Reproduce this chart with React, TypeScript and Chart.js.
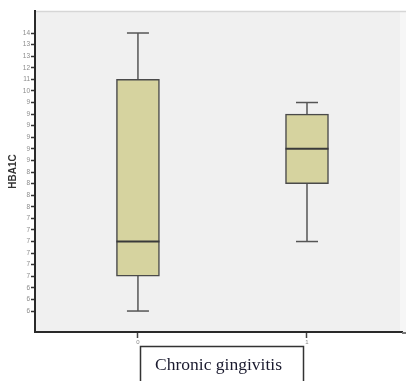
import React, { useEffect, useRef } from "react";
import { Chart, registerables } from "chart.js";

Chart.register(...registerables);

// Groups on the horizontal axis
const groups = [0, 1];
const groupLabels = ["0", "1"];

// Ordinal HbA1c axis: one tick per distinct measured value, labelled rounded
const yTickLabels = [
  "6", "6", "6",
  "7", "7", "7", "7", "7", "7",
  "8", "8", "8", "8",
  "9", "9", "9", "9", "9", "9",
  "10", "11", "12", "13", "13", "14",
];

// Box-plot summaries, as positions on the ordinal axis above
const whiskerLow = [0, 6];
const quartile1 = [3, 11];
const medians = [6, 14];
const quartile3 = [20, 17];
const whiskerHigh = [24, 18];

const xTitle = "Chronic gingivitis";
const yTitle = "HBA1C";

const plotBackground = {
  id: "plotBackground",
  beforeDraw(chart: any) {
    const { ctx, chartArea } = chart;
    if (!chartArea) return;
    ctx.save();
    ctx.fillStyle = "#f0f0f0";
    ctx.fillRect(chartArea.left, chartArea.top, chartArea.right - chartArea.left, chartArea.bottom - chartArea.top);
    ctx.fillStyle = "#f6f6f6";
    ctx.fillRect(chartArea.right - 2, chartArea.top, 6, chartArea.bottom - chartArea.top);
    ctx.strokeStyle = "#d6d6d6";
    ctx.lineWidth = 1.5;
    ctx.beginPath();
    ctx.moveTo(chartArea.left, chartArea.top + 0.5);
    ctx.lineTo(chart.width, chartArea.top + 0.5);
    ctx.stroke();
    ctx.restore();
  },
};

// Frame around the horizontal axis title, and the axis line running to the edge
const titleFrame = {
  id: "titleFrame",
  afterDraw(chart: any) {
    const { ctx, chartArea } = chart;
    const x = chart.scales.x;
    const cx = (x.left + x.right) / 2;
    ctx.save();
    ctx.strokeStyle = "#333";
    ctx.lineWidth = 1.5;
    const left = Math.round(cx - 78.5) + 0.5;
    const right = Math.round(cx + 84.5) + 0.5;
    ctx.strokeRect(left, 346.5, right - left, 60);
    ctx.strokeStyle = "#777";
    ctx.lineWidth = 2;
    ctx.beginPath();
    ctx.moveTo(chartArea.right, chartArea.bottom + 1);
    ctx.lineTo(chart.width, chartArea.bottom + 1);
    ctx.stroke();
    ctx.restore();
  },
};

export default function App() {
  const canvasRef = useRef<HTMLCanvasElement | null>(null);

  useEffect(() => {
    const canvas = canvasRef.current;
    if (!canvas) return;

    const whiskerSets = groups.map((g, i) => ({
      type: "line" as const,
      data: [
        { x: g, y: whiskerLow[i] },
        { x: g, y: whiskerHigh[i] },
      ],
      borderColor: "#555",
      borderWidth: 1.5,
      pointRadius: 0,
      order: 3,
    }));

    const chart = new Chart(canvas, {
      type: "bar",
      data: {
        datasets: [
          ...whiskerSets,
          {
            type: "bar",
            data: groups.map((g, i) => ({ x: g, y: [quartile1[i], quartile3[i]] })),
            backgroundColor: "#d6d39f",
            borderColor: "#4a4a4a",
            borderWidth: 1.5,
            borderSkipped: false,
            barThickness: 43,
            order: 2,
          },
          {
            type: "scatter",
            data: groups.map((g, i) => ({ x: g, y: medians[i] })),
            pointStyle: "line",
            pointRadius: 21.5,
            pointHoverRadius: 21.5,
            pointBorderWidth: 2,
            borderColor: "#3a3a3a",
            order: 1,
          },
          {
            type: "scatter",
            data: [
              ...groups.map((g, i) => ({ x: g, y: whiskerLow[i] })),
              ...groups.map((g, i) => ({ x: g, y: whiskerHigh[i] })),
            ],
            pointStyle: "line",
            pointRadius: 11,
            pointHoverRadius: 11,
            pointBorderWidth: 1.5,
            borderColor: "#555",
            order: 1,
          },
        ] as any,
      },
      options: {
        responsive: false,
        animation: false,
        events: [],
        layout: { autoPadding: false, padding: { top: 11, right: 4, left: 0, bottom: 0 } },
        plugins: {
          legend: { display: false },
          tooltip: { enabled: false },
        },
        scales: {
          x: {
            type: "linear",
            offset: false,
            min: -0.609,
            max: 1.562,
            afterBuildTicks: (scale: any) => {
              scale.ticks = groups.map((g) => ({ value: g }));
            },
            afterFit: (scale: any) => {
              scale.height = 49;
            },
            ticks: {
              autoSkip: false,
              maxRotation: 0,
              padding: 1,
              color: "#888",
              font: { family: "'Liberation Sans'", size: 6 },
              callback: (v: any) => groupLabels[groups.indexOf(Number(v))],
            },
            grid: {
              offset: false,
              drawOnChartArea: false,
              drawTicks: true,
              tickLength: 6,
              tickColor: "#444",
              tickWidth: 1.5,
            },
            border: { display: true, color: "#2a2a2a", width: 2 },
            title: {
              display: true,
              text: xTitle,
              color: "#1a1a2e",
              font: { family: "'Liberation Serif'", size: 17.5 },
              padding: { top: 0, bottom: 5 },
            },
          },
          y: {
            type: "linear",
            min: -1.81,
            max: 25.9,
            afterBuildTicks: (scale: any) => {
              scale.ticks = yTickLabels.map((_, i) => ({ value: i }));
            },
            afterFit: (scale: any) => {
              scale.width = 35;
            },
            ticks: {
              autoSkip: false,
              padding: 1,
              color: "#8a8a8a",
              font: { family: "'Liberation Sans'", size: 6.5 },
              callback: (v: any) => yTickLabels[Number(v)],
            },
            grid: {
              drawOnChartArea: false,
              drawTicks: true,
              tickLength: 4,
              tickColor: "#333",
              tickWidth: 1.5,
            },
            border: { display: true, color: "#2a2a2a", width: 2 },
            title: {
              display: true,
              text: yTitle,
              color: "#333",
              font: { family: "'Liberation Sans'", size: 10, weight: "bold" },
              padding: { top: 7, bottom: 0 },
            },
          },
        },
      },
      plugins: [plotBackground, titleFrame],
    });

    return () => chart.destroy();
  }, []);

  return (
    <div style={{ position: "absolute", left: 0, top: 0, width: 406, height: 381, background: "#fff" }}>
      <canvas ref={canvasRef} width={406} height={381} style={{ display: "block" }} />
    </div>
  );
}
